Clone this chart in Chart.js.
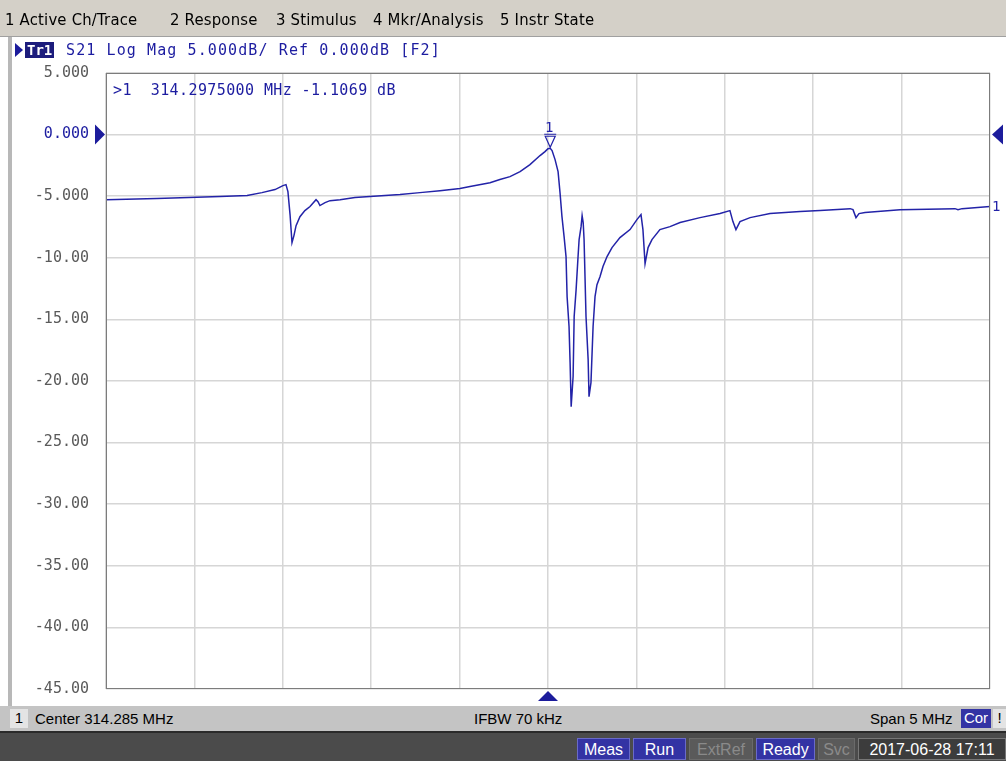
<!DOCTYPE html>
<html>
<head>
<meta charset="utf-8">
<script src="https://cdn.jsdelivr.net/npm/chart.js@4.4.1/dist/chart.umd.min.js"></script>
<style>
  body { margin: 0; width: 1006px; height: 761px; overflow: hidden; background: #fff; position: relative; font-family: "Liberation Sans", Arial, sans-serif; }
  #vna { position: absolute; left: 0; top: 0; }
  .abs { position: absolute; white-space: pre; }
  .mono { font-family: "DejaVu Sans Mono", monospace; }
  #menu { left: 0; top: 0; width: 1006px; height: 36px; background: #d4d0c8; border-bottom: 1px solid #a0a0a0; }
  #menu span { position: absolute; top: 10px; font-size: 16px; letter-spacing: 0.2px; color: #000; font-family: "DejaVu Sans", sans-serif; transform: scaleX(0.93); transform-origin: left; }
  #leftEdge { left: 8px; top: 37px; width: 4px; height: 669px; background: #b8b8b8; }
  #status { left: 0; top: 706px; width: 1006px; height: 25px; background: #c4c4c4; }
  #status span { position: absolute; top: 4px; font-size: 15px; color: #000; }
  #bottom { left: 0; top: 731px; width: 1006px; height: 30px; background: #4b4b4b; border-top: 2px solid #2a2a2a; box-sizing: border-box; }
  .btn { position: absolute; top: 5px; height: 22px; font-size: 16px; line-height: 22px; text-align: center; box-sizing: border-box; }
  .on { background: #3333a4; color: #fff; border: 1px solid #6a6ac8; }
  .off { background: #5a5a5a; color: #8a8a8a; border: 1px solid #6a6a6a; }
</style>
</head>
<body>
<canvas id="vna" width="1006" height="761"></canvas>

<div id="menu" class="abs">
  <span style="left:5px">1 Active Ch/Trace</span>
  <span style="left:170px">2 Response</span>
  <span style="left:276px">3 Stimulus</span>
  <span style="left:373px">4 Mkr/Analysis</span>
  <span style="left:500px">5 Instr State</span>
</div>
<div id="leftEdge" class="abs"></div>

<!-- trace title line -->
<div class="abs" style="left:15px;top:43px;width:0;height:0;border-top:7px solid transparent;border-bottom:7px solid transparent;border-left:8px solid #1c1c9c;"></div>
<div class="abs mono" style="left:25px;top:42px;height:16px;line-height:16px;padding:0 2px;background:#1c1c7c;color:#fff;font-size:14px;font-weight:bold;">Tr1</div>
<div class="abs mono" style="left:66px;top:41px;font-size:15px;letter-spacing:1.1px;color:#1c1ca0;">S21 Log Mag 5.000dB/ Ref 0.000dB [F2]</div>

<!-- marker readout -->
<div class="abs mono" style="left:113px;top:81px;font-size:15px;letter-spacing:0.4px;color:#1c1ca0;">&gt;1  314.2975000 MHz -1.1069 dB</div>

<div id="status" class="abs">
  <span style="left:10px;top:3px;width:18px;height:19px;background:#e4e4e4;text-align:center;">1</span>
  <span style="left:35px">Center 314.285 MHz</span>
  <span style="left:474px">IFBW 70 kHz</span>
  <span style="left:870px">Span 5 MHz</span>
  <span style="left:961px;top:3px;width:30px;height:19px;background:#3333a4;color:#fff;text-align:center;">Cor</span>
  <span style="left:993px;top:3px;width:13px;height:19px;background:#e4e4e4;text-align:center;">!</span>
</div>

<div id="bottom" class="abs">
  <div class="btn on" style="left:577px;width:53px;">Meas</div>
  <div class="btn on" style="left:633px;width:53px;">Run</div>
  <div class="btn off" style="left:689px;width:64px;">ExtRef</div>
  <div class="btn on" style="left:756px;width:59px;">Ready</div>
  <div class="btn off" style="left:818px;width:37px;">Svc</div>
  <div class="btn" style="left:858px;width:148px;background:#3c3c3c;color:#fff;border:1px solid #777;">2017-06-28 17:11</div>
</div>

<script>
// =========================
// TRACE DATA (S21)
// =========================
const freqMHz = [
  311.785, 312.073, 312.430, 312.583, 312.667, 312.741, 312.786, 312.803, 312.814, 312.826,
  312.837, 312.848, 312.860, 312.882, 312.910, 312.939, 312.973, 312.984, 312.995, 313.024,
  313.052, 313.109, 313.193, 313.278, 313.448, 313.561, 313.674, 313.787, 313.844, 313.957,
  314.013, 314.070, 314.127, 314.183, 314.240, 314.268, 314.285, 314.2975, 314.308, 314.325,
  314.342, 314.353, 314.364, 314.376, 314.387, 314.393, 314.404, 314.410, 314.416, 314.427,
  314.433, 314.444, 314.455, 314.461, 314.472, 314.478, 314.484, 314.489, 314.500, 314.512,
  314.517, 314.528, 314.540, 314.551, 314.562, 314.579, 314.596, 314.619, 314.647, 314.692,
  314.749, 314.788, 314.811, 314.822, 314.834, 314.851, 314.873, 314.918, 314.975, 315.032,
  315.145, 315.258, 315.314, 315.331, 315.348, 315.371, 315.428, 315.541, 315.711, 315.824,
  315.994, 316.010, 316.027, 316.044, 316.078, 316.276, 316.587, 316.604, 316.627, 316.785
];
const s21dB = [
  -5.28, -5.19, -5.03, -4.95, -4.71, -4.46, -4.14, -4.06, -4.63, -6.49,
  -8.77, -8.20, -7.39, -6.66, -6.17, -5.84, -5.28, -5.44, -5.76, -5.52,
  -5.36, -5.28, -5.11, -5.03, -4.87, -4.71, -4.55, -4.38, -4.22, -3.90,
  -3.65, -3.41, -3.00, -2.44, -1.70, -1.38, -1.14, -1.107, -1.30, -2.03,
  -3.00, -4.71, -6.66, -8.28, -9.90, -13.15, -15.58, -18.51, -22.08, -19.64,
  -14.77, -12.58, -9.90, -8.52, -7.47, -6.57, -7.14, -8.52, -14.77, -18.26,
  -21.27, -20.13, -15.58, -13.15, -12.18, -11.53, -10.71, -9.90, -9.17, -8.36,
  -7.71, -6.90, -6.49, -7.71, -10.47, -9.17, -8.52, -7.71, -7.47, -7.14,
  -6.74, -6.41, -6.17, -7.06, -7.71, -7.06, -6.74, -6.41, -6.25, -6.17,
  -6.01, -6.09, -6.74, -6.41, -6.33, -6.09, -6.01, -6.09, -6.01, -5.84
];

// =========================
// AXES
// =========================
const xGridMHz = [311.785, 312.285, 312.785, 313.285, 313.785, 314.285, 314.785, 315.285, 315.785, 316.285, 316.785];
const yTicks = [5, 0, -5, -10, -15, -20, -25, -30, -35, -40, -45];
const yTickLabels = ["5.000", "0.000", "-5.000", "-10.00", "-15.00", "-20.00", "-25.00", "-30.00", "-35.00", "-40.00", "-45.00"];

const centerMHz = 314.285;
const refLevel = 0;
const markerMHz = 314.2975;
const markerDb = -1.1069;

const BLUE = '#2323a8';

// =========================
// OVERLAY: frame, ref arrows, marker
// =========================
const vnaOverlay = {
  id: 'vnaOverlay',
  afterDraw(chart) {
    const { ctx, chartArea: a, scales: { x, y } } = chart;
    ctx.save();

    ctx.strokeStyle = '#7c7c7c';
    ctx.lineWidth = 1;
    ctx.strokeRect(a.left + 0.5, a.top + 0.5, a.width - 1, a.height - 1);

    ctx.fillStyle = '#1c1c9c';
    const y0 = y.getPixelForValue(refLevel);
    ctx.beginPath();
    ctx.moveTo(a.left - 11, y0 - 10); ctx.lineTo(a.left - 1, y0); ctx.lineTo(a.left - 11, y0 + 10);
    ctx.fill();
    ctx.beginPath();
    ctx.moveTo(a.right + 13, y0 - 10); ctx.lineTo(a.right + 2, y0); ctx.lineTo(a.right + 13, y0 + 10);
    ctx.fill();

    const xc = x.getPixelForValue(centerMHz);
    ctx.beginPath();
    ctx.moveTo(xc - 10, a.bottom + 12); ctx.lineTo(xc, a.bottom + 2); ctx.lineTo(xc + 10, a.bottom + 12);
    ctx.fill();

    // marker 1
    const mx = x.getPixelForValue(markerMHz);
    const my = y.getPixelForValue(markerDb);
    ctx.strokeStyle = BLUE;
    ctx.lineWidth = 1.2;
    ctx.beginPath();
    ctx.moveTo(mx - 6, my - 14); ctx.lineTo(mx + 6, my - 14);
    ctx.moveTo(mx - 5, my - 12); ctx.lineTo(mx, my - 1); ctx.lineTo(mx + 5, my - 12); ctx.closePath();
    ctx.stroke();
    ctx.fillStyle = BLUE;
    ctx.font = '14px "DejaVu Sans Mono"';
    ctx.textAlign = 'center';
    ctx.textBaseline = 'alphabetic';
    ctx.fillText('1', mx - 1, my - 16);

    // trace end label
    const lastY = y.getPixelForValue(s21dB[s21dB.length - 1]);
    ctx.textAlign = 'left';
    ctx.textBaseline = 'middle';
    ctx.font = '14px "DejaVu Sans Mono"';
    ctx.fillText('1', a.right + 2, lastY + 1);
    ctx.restore();
  }
};

// =========================
// CHART
// =========================
const points = freqMHz.map((f, i) => ({ x: f, y: s21dB[i] }));

new Chart(document.getElementById('vna'), {
  type: 'line',
  data: {
    datasets: [{
      data: points,
      borderColor: BLUE,
      borderWidth: 1.5,
      pointRadius: 0,
      tension: 0,
      fill: false
    }]
  },
  options: {
    responsive: false,
    animation: false,
    devicePixelRatio: 1,
    layout: { padding: { left: 0, right: 16, top: 73, bottom: 72 } },
    plugins: { legend: { display: false }, tooltip: { enabled: false } },
    scales: {
      x: {
        type: 'linear',
        min: xGridMHz[0],
        max: xGridMHz[xGridMHz.length - 1],
        afterBuildTicks: s => { s.ticks = xGridMHz.map(v => ({ value: v })); },
        afterFit: s => { s.height = 0; },
        ticks: { display: false },
        grid: { color: '#d6d6d6', drawTicks: false, lineWidth: 1.5 },
        border: { display: false }
      },
      y: {
        min: -45,
        max: 5,
        afterBuildTicks: s => { s.ticks = yTicks.map(v => ({ value: v })); },
        afterFit: s => { s.width = 106; },
        ticks: {
          padding: 17,
          font: { family: 'DejaVu Sans Mono', size: 15 },
          color: c => (c.tick.value === refLevel ? '#1c1ca0' : '#5a5a5a'),
          callback: v => yTickLabels[yTicks.indexOf(v)]
        },
        grid: { color: '#d6d6d6', drawTicks: false, lineWidth: 1.5 },
        border: { display: false }
      }
    }
  },
  plugins: [vnaOverlay]
});
</script>
</body>
</html>
